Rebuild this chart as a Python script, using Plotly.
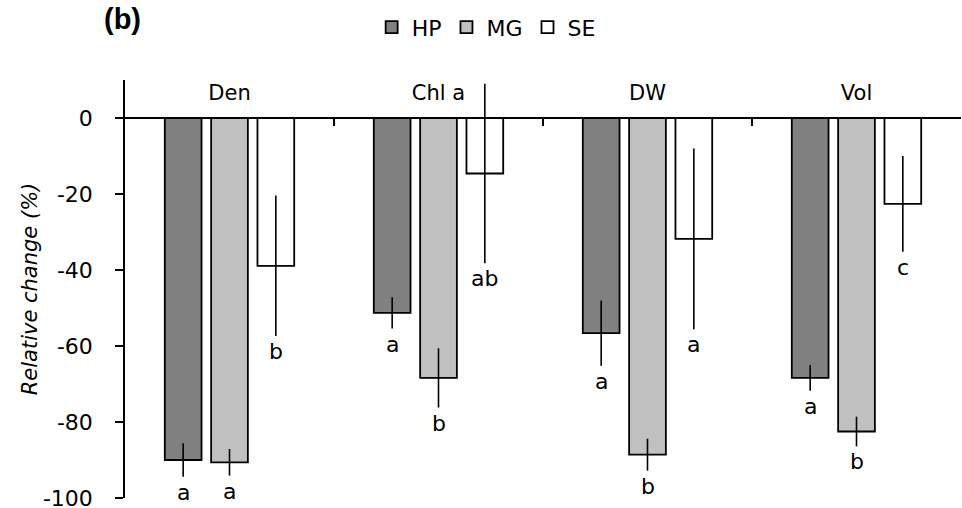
import plotly.graph_objects as go

categories = ["Den", "Chl a", "DW", "Vol"]
series_names = ["HP", "MG", "SE"]
hp_values = [-90.0, -51.3, -56.6, -68.4]
mg_values = [-90.6, -68.4, -88.6, -82.5]
se_values = [-38.9, -14.6, -31.8, -22.6]
hp_errors = [4.4, 4.1, 8.6, 3.4]
mg_errors = [3.5, 7.8, 4.2, 3.9]
se_errors = [18.5, 23.6, 23.8, 12.6]
hp_letters = ["a", "a", "a", "a"]
mg_letters = ["a", "b", "b", "b"]
se_letters = ["b", "ab", "a", "c"]
y_tick_vals = [0, -20, -40, -60, -80, -100]
y_tick_text = ["0", "-20", "-40", "-60", "-80", "-100"]

colors = ["#808080", "#c0c0c0", "#ffffff"]
values = [hp_values, mg_values, se_values]
errors = [hp_errors, mg_errors, se_errors]
letters = [hp_letters, mg_letters, se_letters]

FONT = "DejaVu Sans, sans-serif"
Y_MIN, Y_MAX = -100, 10
BARGAP = 0.335
BARGROUPGAP = 0.207

fig = go.Figure()
for name, col, vals, errs in zip(series_names, colors, values, errors):
    fig.add_trace(go.Bar(
        name=name, x=categories, y=vals,
        marker=dict(color=col, line=dict(color="black", width=1.8)),
        error_y=dict(type="data", array=errs, visible=True, color="black",
                     thickness=1.6, width=0),
    ))

slot = (1 - BARGAP) / len(series_names)
for si, (vals, errs, labs) in enumerate(zip(values, errors, letters)):
    for ci, (v, e, lab) in enumerate(zip(vals, errs, labs)):
        fig.add_annotation(
            x=ci + (si - 1) * slot, y=v - e, xref="x", yref="y",
            text=lab, showarrow=False, yanchor="top", yshift=-1,
            font=dict(family=FONT, size=22, color="black"),
        )

fig.add_annotation(
    x=-0.0275, y=1.145, xref="paper", yref="paper", text="<b>(b)</b>",
    showarrow=False, xanchor="left", yanchor="middle",
    font=dict(family="Liberation Sans, Arial, sans-serif", size=29, color="black"),
)

fig.update_layout(
    width=962, height=508,
    margin=dict(l=125, r=1, t=80, b=10, autoexpand=False),
    paper_bgcolor="white", plot_bgcolor="white",
    barmode="group", bargap=BARGAP, bargroupgap=BARGROUPGAP,
    font=dict(family=FONT, size=22, color="black"),
    showlegend=True,
    legend=dict(orientation="h", x=0.432, xanchor="center", y=1.126,
                yanchor="middle", font=dict(family=FONT, size=22),
                itemwidth=30, tracegroupgap=0, bgcolor="rgba(0,0,0,0)"),
    xaxis=dict(
        type="category", side="top", anchor="free",
        position=(0 - Y_MIN) / (Y_MAX - Y_MIN),
        showline=True, linecolor="black", linewidth=2,
        ticks="inside", tickson="boundaries", ticklen=7, tickwidth=1.5,
        tickcolor="black", showgrid=False, range=[-0.5, 3.5],
        ticklabelstandoff=9,
        tickfont=dict(family=FONT, size=21, color="black"),
    ),
    yaxis=dict(
        range=[Y_MIN, Y_MAX], tickvals=y_tick_vals, ticktext=y_tick_text,
        showline=True, linecolor="black", linewidth=1.5,
        ticks="outside", ticklen=8, tickwidth=1.5, tickcolor="black",
        showgrid=False, zeroline=False, ticklabelstandoff=18,
        ticklabeloverflow="allow",
        tickfont=dict(family=FONT, size=22, color="black"),
        title=dict(text="<i>Relative change (%)</i>", standoff=0,
                   font=dict(family=FONT, size=21, color="black")),
    ),
)

fig.write_html("out.html", config={"displayModeBar": False},
               post_script="document.body.style.margin='0';")
